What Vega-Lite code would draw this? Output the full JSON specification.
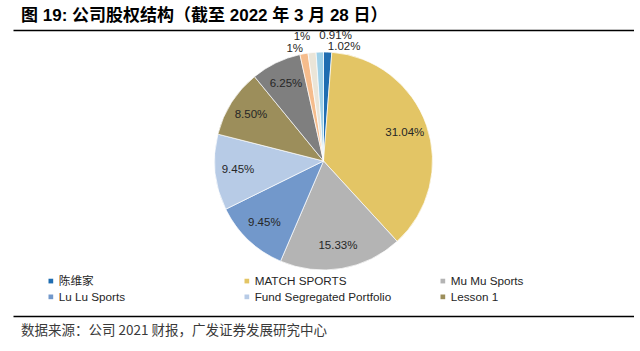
{
  "$schema": "https://vega.github.io/schema/vega-lite/v6.json",
  "padding": {"left": 13, "top": 6, "right": 0, "bottom": 0},
  "background": "white",
  "bounds": "flush",
  "config": {"view": {"strokeOpacity": 0}},
  "title": {
    "text": "图 19:  公司股权结构（截至 2022 年 3 月 28 日）",
    "anchor": "start",
    "dx": 8,
    "offset": 4,
    "fontSize": 17,
    "fontWeight": "bold",
    "font": "Liberation Sans, Noto Sans CJK SC",
    "color": "#000000"
  },
  "datasets": {
    "shares": [
      {"name": "陈维家", "value": 1.02, "label": "1.02%", "order": 1},
      {"name": "MATCH SPORTS", "value": 31.04, "label": "31.04%", "order": 2},
      {"name": "Mu Mu Sports", "value": 15.33, "label": "15.33%", "order": 3},
      {"name": "Lu Lu Sports", "value": 9.45, "label": "9.45%", "order": 4},
      {"name": "Fund Segregated Portfolio", "value": 9.45, "label": "9.45%", "order": 5},
      {"name": "Lesson 1", "value": 8.5, "label": "8.50%", "order": 6},
      {"name": "其他1", "value": 6.25, "label": "6.25%", "order": 7},
      {"name": "其他2", "value": 1, "label": "1%", "order": 8},
      {"name": "其他3", "value": 1, "label": "1%", "order": 9},
      {"name": "其他4", "value": 0.91, "label": "0.91%", "order": 10}
    ]
  },
  "spacing": 0,
  "resolve": {"scale": {"color": "independent"}, "legend": {"color": "independent"}},
  "vconcat": [
    {
      "width": 621,
      "height": 1,
      "data": {"name": "shares"},
      "mark": {"type": "tick", "color": "#ffffff", "size": 2, "thickness": 1},
      "encoding": {
        "x": {
          "field": "value",
          "type": "quantitative",
          "axis": {"orient": "bottom", "zindex": 1, "domainColor": "#000000", "domainWidth": 1.6, "ticks": false, "labels": false, "grid": false, "title": null}
        }
      }
    },
    {
      "width": 621,
      "height": 262,
      "data": {"name": "shares"},
      "layer": [
        {
          "mark": {"type": "arc", "outerRadius": 109, "stroke": "#ffffff", "strokeWidth": 0.7},
          "encoding": {
            "theta": {"field": "value", "type": "quantitative", "stack": true},
            "order": {"field": "order", "type": "quantitative"},
            "color": {
              "field": "name",
              "type": "nominal",
              "scale": {
                "domain": ["陈维家", "MATCH SPORTS", "Mu Mu Sports", "Lu Lu Sports", "Fund Segregated Portfolio", "Lesson 1", "其他1", "其他2", "其他3", "其他4"],
                "range": ["#1F6DB1", "#E3C565", "#B4B4B4", "#7298CB", "#B7CBE6", "#9C8E5B", "#7F7F7F", "#F5BC8C", "#EAE5D8", "#9ED0E8"]
              },
              "legend": {
                "orient": "none",
                "direction": "horizontal",
                "legendX": 32,
                "legendY": 245,
                "columns": 3,
                "columnPadding": 45,
                "rowPadding": 3,
                "gridAlign": "all",
                "symbolType": "square",
                "symbolSize": 22,
                "symbolStrokeWidth": 0,
                "labelFontSize": 11.7,
                "labelFont": "Liberation Sans, Noto Sans CJK SC",
                "labelColor": "#262626",
                "labelOffset": 2,
                "padding": 0,
                "title": null,
                "values": ["陈维家", "MATCH SPORTS", "Mu Mu Sports", "Lu Lu Sports", "Fund Segregated Portfolio", "Lesson 1"]
              }
            }
          }
        },
        {
          "mark": {"type": "text", "radius": 86, "fontSize": 11.5, "font": "Liberation Sans", "color": "#262626"},
          "encoding": {
            "theta": {"field": "value", "type": "quantitative", "stack": true},
            "order": {"field": "order", "type": "quantitative"},
            "text": {"condition": {"test": "datum.value >= 2", "field": "label"}, "value": ""}
          }
        },
        {
          "mark": {"type": "text", "radius": 114, "align": "right", "fontSize": 11.5, "font": "Liberation Sans", "color": "#262626"},
          "encoding": {
            "theta": {"field": "value", "type": "quantitative", "stack": true},
            "order": {"field": "order", "type": "quantitative"},
            "text": {"condition": {"test": "datum.name === '其他2'", "field": "label"}, "value": ""}
          }
        },
        {
          "mark": {"type": "text", "radius": 114, "align": "left", "fontSize": 11.5, "font": "Liberation Sans", "color": "#262626"},
          "encoding": {
            "theta": {"field": "value", "type": "quantitative", "stack": true},
            "order": {"field": "order", "type": "quantitative"},
            "text": {"condition": {"test": "datum.name === '陈维家'", "field": "label"}, "value": ""}
          }
        },
        {
          "mark": {"type": "text", "radius": 125, "align": "right", "fontSize": 11.5, "font": "Liberation Sans", "color": "#262626"},
          "encoding": {
            "theta": {"field": "value", "type": "quantitative", "stack": true},
            "order": {"field": "order", "type": "quantitative"},
            "text": {"condition": {"test": "datum.name === '其他3'", "field": "label"}, "value": ""}
          }
        },
        {
          "mark": {"type": "text", "radius": 125, "align": "left", "fontSize": 11.5, "font": "Liberation Sans", "color": "#262626"},
          "encoding": {
            "theta": {"field": "value", "type": "quantitative", "stack": true},
            "order": {"field": "order", "type": "quantitative"},
            "text": {"condition": {"test": "datum.name === '其他4'", "field": "label"}, "value": ""}
          }
        }
      ]
    },
    {
      "width": 621,
      "height": 24,
      "data": {"name": "shares"},
      "mark": {"type": "tick", "color": "#ffffff", "size": 2, "thickness": 1},
      "encoding": {
        "x": {
          "field": "value",
          "type": "quantitative",
          "axis": {"orient": "bottom", "zindex": 1, "domainColor": "#000000", "domainWidth": 1.6, "ticks": false, "labels": false, "grid": false, "title": null}
        }
      },
      "title": {
        "text": "数据来源：公司 2021 财报，广发证券发展研究中心",
        "orient": "bottom",
        "anchor": "start",
        "dx": 8,
        "offset": 8,
        "fontSize": 13.5,
        "fontWeight": "normal",
        "font": "Noto Sans CJK SC",
        "color": "#3a3a3a"
      }
    }
  ]
}
